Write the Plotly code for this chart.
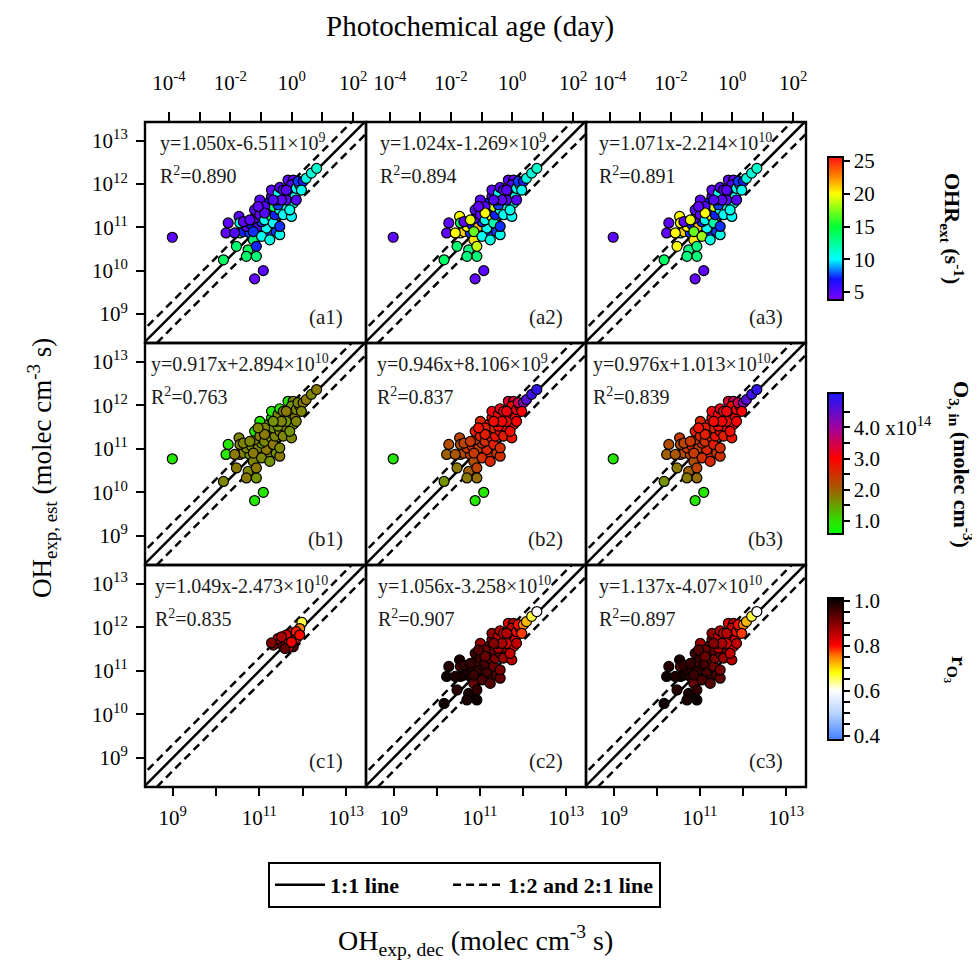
import plotly.graph_objects as go

# ---------------- data (log10 of OH exposure, molec cm-3 s) ----------------
LOGX_AB = [8.99, 10.89, 11.09, 10.17, 10.47, 10.74, 10.93, 10.70, 10.23, 10.28,
           10.53, 10.55, 10.63, 10.78, 10.93, 11.09, 11.24, 11.39, 11.47, 10.86,
           10.93, 10.70, 10.82, 10.97, 11.16, 10.55, 11.05, 10.89, 10.89, 11.01,
           11.12, 11.28, 11.32, 11.47, 11.36, 11.16, 11.20, 11.32, 11.47, 11.62,
           11.55, 11.43, 11.39, 11.55, 11.01, 11.12, 11.28, 11.28, 11.43, 11.47,
           11.55, 11.66, 11.78, 11.74, 11.70, 11.82, 11.78, 11.62, 11.85, 11.93,
           11.89, 12.01, 11.97, 12.08, 12.20, 12.32, 11.74, 11.70, 10.63, 10.86,
           11.05, 11.24, 11.85, 11.62, 11.51, 11.32, 11.12, 10.97, 10.78, 10.43]
LOGY_AB = [10.77, 9.81, 10.00, 10.25, 10.56, 10.48, 10.33, 10.33, 10.87, 11.10,
           11.25, 10.87, 10.90, 10.87, 10.83, 10.90, 10.87, 10.90, 10.83, 10.71,
           10.56, 11.02, 11.06, 11.02, 10.98, 11.10, 11.13, 11.21, 11.40, 11.29,
           11.17, 11.25, 11.10, 11.02, 11.29, 11.40, 11.56, 11.48, 11.40, 11.48,
           11.29, 11.52, 11.63, 11.71, 11.63, 11.48, 11.71, 11.86, 11.79, 11.92,
           11.86, 12.09, 12.09, 11.98, 11.79, 11.71, 11.56, 11.63, 11.90, 11.98,
           12.06, 12.06, 11.86, 12.13, 12.25, 12.36, 11.25, 11.40, 11.13, 10.90,
           10.79, 10.71, 11.63, 11.86, 11.63, 11.63, 11.33, 11.48, 11.17, 10.87]

# OHR_ext (s-1) colouring, columns 1-3
OHR_1 = [4.8, 4.6, 4.9, 13.8, 13.5, 14.0, 13.2, 13.6, 4.7, 4.9,
         5.0, 13.0, 7.2, 7.5, 12.8, 7.0, 7.4, 7.6, 10.5, 13.4,
         7.3, 4.8, 7.1, 5.2, 10.2, 10.6, 7.5, 4.9, 5.0, 4.7,
         10.3, 13.0, 10.1, 7.4, 7.2, 5.0, 7.3, 13.5, 10.4, 10.8,
         10.2, 7.6, 10.5, 4.8, 4.9, 5.1, 4.8, 4.7, 10.0, 4.9,
         5.0, 4.8, 4.6, 5.1, 7.4, 10.3, 10.6, 4.9, 10.4, 10.7,
         7.5, 7.2, 10.3, 10.8, 10.9, 11.2, 10.1, 10.5, 4.8, 7.4,
         10.2, 10.6, 5.0, 4.9, 4.8, 5.1, 5.0, 4.7, 4.9, 5.2]
OHR_2 = [4.8, 4.6, 4.9, 13.8, 13.5, 13.0, 13.2, 13.0, 4.7, 4.9,
         20.0, 19.5, 21.0, 7.5, 18.0, 7.0, 7.4, 7.6, 10.5, 20.5,
         19.0, 20.0, 7.1, 21.5, 10.2, 14.0, 7.5, 4.9, 5.0, 4.7,
         10.3, 20.0, 12.0, 7.4, 7.2, 5.0, 7.3, 19.0, 10.4, 10.8,
         10.2, 7.6, 10.5, 4.8, 4.9, 5.1, 4.8, 4.7, 10.0, 4.9,
         5.0, 4.8, 4.6, 5.1, 7.4, 10.3, 10.6, 4.9, 10.4, 10.7,
         7.5, 7.2, 10.3, 10.8, 10.9, 11.2, 10.1, 10.5, 4.8, 17.0,
         10.2, 10.6, 5.0, 4.9, 4.8, 5.1, 20.0, 4.7, 19.5, 20.0]
OHR_3 = [4.8, 4.6, 4.9, 13.8, 20.0, 13.0, 13.2, 13.0, 4.7, 4.9,
         20.0, 15.0, 21.0, 7.5, 18.0, 7.0, 7.4, 7.6, 10.5, 20.5,
         13.0, 20.0, 7.1, 21.5, 10.2, 20.0, 7.5, 4.9, 5.0, 4.7,
         10.3, 20.0, 12.0, 7.4, 7.2, 5.0, 7.3, 19.0, 10.4, 10.8,
         10.2, 7.6, 10.5, 4.8, 4.9, 5.1, 4.8, 4.7, 10.0, 4.9,
         5.0, 4.8, 4.6, 5.1, 7.4, 10.3, 10.6, 4.9, 10.4, 10.7,
         7.5, 7.2, 10.3, 10.8, 10.9, 11.2, 10.1, 10.5, 4.8, 17.0,
         18.0, 10.6, 5.0, 4.9, 4.8, 5.1, 20.0, 4.7, 19.5, 20.0]

# O3,in (x1e14 molec cm-3) colouring, columns 1-3
O3_1 = [0.9, 0.9, 0.9, 1.7, 1.8, 1.7, 1.6, 1.8, 0.9, 0.9,
        1.7, 1.8, 1.7, 1.6, 1.7, 1.8, 1.7, 1.6, 1.8, 1.7,
        1.8, 1.7, 1.6, 1.7, 1.8, 1.7, 1.6, 1.7, 0.9, 1.8,
        1.7, 1.6, 1.8, 1.7, 1.7, 1.8, 1.7, 1.6, 1.7, 1.8,
        1.7, 1.6, 1.7, 0.9, 0.9, 1.7, 0.9, 0.9, 1.7, 0.9,
        1.8, 0.9, 1.7, 1.6, 1.7, 1.8, 1.7, 1.6, 1.7, 1.8,
        1.7, 1.8, 1.7, 1.8, 1.7, 1.8, 1.7, 1.6, 1.7, 1.8,
        1.7, 1.6, 1.7, 1.8, 1.7, 1.6, 1.8, 1.7, 1.7, 1.8]
O3_2 = [0.9, 0.9, 0.9, 1.6, 1.8, 2.0, 1.9, 1.8, 2.0, 2.2,
        2.3, 2.1, 2.2, 2.3, 2.4, 2.5, 2.6, 2.4, 2.5, 2.2,
        2.3, 2.4, 2.5, 2.3, 2.6, 2.2, 2.5, 2.4, 2.7, 2.6,
        2.5, 2.6, 2.7, 2.5, 2.8, 2.9, 2.8, 2.6, 2.9, 2.8,
        2.7, 2.9, 3.0, 3.0, 2.6, 2.7, 3.0, 3.1, 2.9, 3.2,
        3.1, 3.3, 3.4, 3.0, 2.9, 3.0, 2.8, 2.9, 3.1, 3.2,
        3.5, 4.2, 3.0, 4.6, 4.8, 4.9, 2.8, 2.9, 2.3, 2.4,
        2.5, 2.6, 3.0, 3.1, 3.0, 2.9, 2.7, 2.8, 2.4, 2.1]
O3_3 = [0.9, 0.9, 0.9, 1.6, 1.8, 2.0, 1.9, 1.8, 2.0, 2.2,
        2.4, 2.1, 2.2, 2.3, 2.4, 2.5, 2.6, 2.4, 2.5, 2.2,
        2.3, 2.4, 2.5, 2.3, 2.6, 2.2, 2.5, 2.4, 2.7, 2.6,
        2.5, 2.6, 2.7, 2.5, 2.8, 2.9, 2.8, 2.6, 2.9, 2.8,
        2.7, 2.9, 3.0, 3.0, 2.6, 2.7, 3.0, 3.1, 2.9, 3.2,
        3.1, 3.3, 3.6, 3.0, 2.9, 3.0, 2.8, 2.9, 3.1, 3.2,
        3.5, 4.2, 3.0, 4.6, 4.8, 4.9, 2.8, 2.9, 2.3, 2.4,
        2.5, 2.6, 3.0, 3.1, 3.0, 2.9, 2.7, 2.8, 2.4, 2.1]

# row c: r_O3 colouring
LOGX_C1 = [11.98, 11.93, 11.74, 11.85, 11.66, 11.55, 11.47, 11.32, 11.43, 11.62,
           11.78, 11.66, 11.59, 11.51, 11.74, 11.28, 11.85, 11.93]
LOGY_C1 = [12.11, 11.97, 11.87, 11.74, 11.70, 11.66, 11.63, 11.59, 11.74, 11.82,
           11.55, 11.53, 11.51, 11.78, 11.66, 11.64, 11.90, 11.82]
R_C1 = [0.66, 0.75, 0.80, 0.82, 0.88, 0.84, 0.92, 0.90, 0.86, 0.83,
        0.95, 0.82, 0.93, 0.87, 0.81, 0.90, 0.79, 0.80]

LOGX_C23 = LOGX_AB[3:]
LOGY_C23 = LOGY_AB[3:]
R_C2 = [1.00, 0.98, 0.99, 1.00, 0.99, 1.00, 0.98, 0.99, 0.97, 0.99,
        0.98, 0.97, 0.96, 0.95, 0.94, 0.93, 0.92, 0.97, 0.98, 0.97,
        0.96, 0.95, 0.94, 0.97, 0.93, 0.96, 0.96, 0.95, 0.93, 0.92,
        0.91, 0.90, 0.89, 0.91, 0.92, 0.93, 0.90, 0.88, 0.87, 0.89,
        0.90, 0.88, 0.92, 0.91, 0.89, 0.85, 0.86, 0.84, 0.83, 0.86,
        0.85, 0.84, 0.82, 0.81, 0.83, 0.80, 0.78, 0.80, 0.75, 0.78,
        0.72, 0.66, 0.60, 0.86, 0.85, 0.97, 0.96, 0.95, 0.94, 0.85,
        0.86, 0.87, 0.90, 0.92, 0.94, 0.97, 0.99]
R_C3 = R_C2

EQ = [["y=1.050x-6.511×10<sup>9</sup>", "y=1.024x-1.269×10<sup>9</sup>", "y=1.071x-2.214×10<sup>10</sup>"],
      ["y=0.917x+2.894×10<sup>10</sup>", "y=0.946x+8.106×10<sup>9</sup>", "y=0.976x+1.013×10<sup>10</sup>"],
      ["y=1.049x-2.473×10<sup>10</sup>", "y=1.056x-3.258×10<sup>10</sup>", "y=1.137x-4.07×10<sup>10</sup>"]]
R2 = [["0.890", "0.894", "0.891"], ["0.763", "0.837", "0.839"], ["0.835", "0.907", "0.897"]]
LABELS = [["(a1)", "(a2)", "(a3)"], ["(b1)", "(b2)", "(b3)"], ["(c1)", "(c2)", "(c3)"]]
LEGEND_NAMES = ["1:1 line", "1:2 and 2:1 line"]

LINE_X = [1e8, 1e14]
RATIOS = [1.0, 2.0, 0.5]

OH_TICKS = [9, 10, 11, 12, 13]
AGE_TICKS = [-4, -3, -2, -1, 0, 1, 2]

# ---------------- layout geometry (screen pixels) ----------------
W, H = 980, 964
OFF = 8  # page body margin
COLS = [(145, 366), (366, 586), (586, 806)]
ROWS = [(122, 343), (343, 565), (565, 787)]
EQ_LEFT = [[13, 12, 11], [4, 9, 5], [8, 10, 11]]
XR = [8.36, 13.46]
YR = [8.33, 13.43]
AGE_RANGE = [-4.78, 2.42]
FONT = "Liberation Serif"


def px(v):
    return (v - OFF) / W


def py(v):
    return 1 - (v - OFF) / H


CS_OHR = [[0.0, "#8000ff"], [0.147, "#1010ff"], [0.284, "#00ffff"], [0.514, "#00ff30"],
          [0.743, "#ffff00"], [0.86, "#ff8800"], [1.0, "#ff1010"]]
CS_O3 = [[0.0, "#00ff00"], [0.093, "#30e000"], [0.314, "#a06000"], [0.535, "#ff0000"],
         [0.757, "#a000a0"], [1.0, "#1818ff"]]
CS_R = [[0.0, "#4080ff"], [0.19, "#b8d4ff"], [0.35, "#ffffff"], [0.476, "#ffff00"],
        [0.587, "#ff8000"], [0.667, "#ff0000"], [0.825, "#800000"], [1.0, "#000000"]]


def p10(a):
    return [10 ** v for v in a]


fig = go.Figure()

panels = [
    [(LOGX_AB, LOGY_AB, OHR_1), (LOGX_AB, LOGY_AB, OHR_2), (LOGX_AB, LOGY_AB, OHR_3)],
    [(LOGX_AB, LOGY_AB, O3_1), (LOGX_AB, LOGY_AB, O3_2), (LOGX_AB, LOGY_AB, O3_3)],
    [(LOGX_C1, LOGY_C1, R_C1), (LOGX_C23, LOGY_C23, R_C2), (LOGX_C23, LOGY_C23, R_C3)],
]
row_cs = [CS_OHR, CS_O3, CS_R]
row_rng = [(3.8, 25.6), (0.58, 5.1), (0.38, 1.013)]
cb_y = [(157, 300), (393, 534), (598, 740)]
cb_ticks = [
    dict(tickvals=[5, 10, 15, 20, 25], ticktext=["5", "10", "15", "20", "25"]),
    dict(tickvals=[1, 1.5, 2, 2.5, 3, 3.5, 4, 4.5],
         ticktext=["1.0", "", "2.0", "", "3.0", "", "4.0 x10<sup>14</sup>", ""]),
    dict(tickvals=[0.4, 0.45, 0.5, 0.55, 0.6, 0.65, 0.7, 0.75, 0.8, 0.85, 0.9, 0.95, 1.0],
         ticktext=["0.4", "", "", "", "0.6", "", "", "", "0.8", "", "", "", "1.0"]),
]
TICKFONT = dict(family=FONT, size=21, color="black")
NBSP = "\u00a0"
DASH = "8px,5px"

for r in range(3):
    for c in range(3):
        n = r * 3 + c + 1
        xa = "x" if n == 1 else f"x{n}"
        ya = "y" if n == 1 else f"y{n}"
        x0, x1 = COLS[c]
        y0, y1 = ROWS[r]
        pw, ph = x1 - x0, y1 - y0
        # reference lines
        for k, ratio in enumerate(RATIOS):
            nm = LEGEND_NAMES[min(k, 1)]
            if k == 0:
                nm = nm + NBSP * 8
            fig.add_trace(go.Scatter(
                x=LINE_X, y=[ratio * v for v in LINE_X], mode="lines",
                line=dict(color="black", width=2.5, dash="solid" if k == 0 else DASH),
                xaxis=xa, yaxis=ya, hoverinfo="skip", name=f"<b>{nm}</b>",
                showlegend=(n == 1 and k < 2)))
        lx, ly, col = panels[r][c]
        cb = None
        if c == 0:
            cy0, cy1 = cb_y[r]
            cb = dict(x=px(828), xanchor="left", xpad=0, thickness=15, lenmode="pixels",
                      len=(cy1 - cy0), y=py((cy0 + cy1) / 2), yanchor="middle", ypad=0,
                      outlinecolor="black", outlinewidth=2, ticks="outside", ticklen=6,
                      tickwidth=2, tickcolor="black", tickfont=TICKFONT, **cb_ticks[r])
        fig.add_trace(go.Scatter(
            x=p10(lx), y=p10(ly), mode="markers", xaxis=xa, yaxis=ya, showlegend=False,
            marker=dict(size=10, color=col, colorscale=row_cs[r], cmin=row_rng[r][0],
                        cmax=row_rng[r][1], line=dict(color="black", width=1.2),
                        showscale=(c == 0), colorbar=cb)))
        fig.layout[f"xaxis{n}"] = dict(
            domain=[px(x0), px(x1)], anchor=ya, type="log", range=XR,
            showgrid=False, zeroline=False, showline=False,
            ticks="outside" if r == 2 else "", ticklen=8, tickwidth=2, tickcolor="black",
            tickvals=[10 ** t for t in OH_TICKS],
            ticktext=[f"10<sup>{t}</sup>" if t % 2 == 1 else "" for t in OH_TICKS],
            showticklabels=(r == 2), ticklabelstandoff=4, tickfont=TICKFONT)
        fig.layout[f"yaxis{n}"] = dict(
            domain=[py(y1), py(y0)], anchor=xa, type="log", range=YR,
            showgrid=False, zeroline=False, showline=False,
            ticks="outside" if c == 0 else "", ticklen=8, tickwidth=2, tickcolor="black",
            tickvals=[10 ** t for t in OH_TICKS],
            ticktext=[f"10<sup>{t}</sup>" for t in OH_TICKS],
            showticklabels=(c == 0), ticklabelstandoff=4, tickfont=TICKFONT)
        # frame
        fig.add_shape(type="rect", xref=f"{xa} domain", yref=f"{ya} domain",
                      x0=0, x1=1, y0=0, y1=1, line=dict(color="black", width=2.4),
                      layer="above")
        # annotations
        fig.add_annotation(
            xref=f"{xa} domain", yref=f"{ya} domain", x=EQ_LEFT[r][c] / pw, y=1 - 20 / ph,
            xanchor="left", yanchor="middle", showarrow=False, text=EQ[r][c],
            font=dict(family=FONT, size=20, color="#1a1a1a"))
        fig.add_annotation(
            xref=f"{xa} domain", yref=f"{ya} domain", x=EQ_LEFT[r][c] / pw, y=1 - 53 / ph,
            xanchor="left", yanchor="middle", showarrow=False,
            text=f"R<sup>2</sup>={R2[r][c]}",
            font=dict(family=FONT, size=20, color="#1a1a1a"))
        fig.add_annotation(
            xref=f"{xa} domain", yref=f"{ya} domain", x=1 - 21 / pw, y=26 / ph,
            xanchor="right", yanchor="middle", showarrow=False, text=LABELS[r][c],
            font=dict(family=FONT, size=21, color="#1a1a1a"))

# top photochemical-age axes
for c in range(3):
    n = 10 + c
    base = "x" if c == 0 else f"x{c + 1}"
    yb = "y" if c == 0 else f"y{c + 1}"
    fig.add_trace(go.Scatter(x=[1e-3], y=[1e10], mode="markers", marker=dict(opacity=0),
                             xaxis=f"x{n}", yaxis=yb, showlegend=False, hoverinfo="skip"))
    fig.layout[f"xaxis{n}"] = dict(
        overlaying=base, side="top", anchor=yb, type="log", range=AGE_RANGE,
        showgrid=False, zeroline=False, showline=False,
        ticks="outside", ticklen=9, tickwidth=2, tickcolor="black",
        tickvals=[10 ** t for t in AGE_TICKS],
        ticktext=[f"10<sup>{t}</sup>" if t % 2 == 0 else "" for t in AGE_TICKS],
        ticklabelstandoff=14, tickfont=TICKFONT)

# titles
TITLE = dict(family=FONT, size=29, color="black")
fig.add_annotation(xref="paper", yref="paper", x=px(470), y=py(26), xanchor="center",
                   yanchor="middle", showarrow=False, text="Photochemical age (day)", font=TITLE)
fig.add_annotation(xref="paper", yref="paper", x=px(475), y=py(940), xanchor="center",
                   yanchor="middle", showarrow=False,
                   text="OH<sub>exp, dec</sub> (molec cm<sup>-3</sup> s)",
                   font=dict(family=FONT, size=28, color="black"))
fig.add_annotation(xref="paper", yref="paper", x=px(42), y=py(468), xanchor="center",
                   yanchor="middle", showarrow=False, textangle=-90,
                   text="OH<sub>exp, est</sub> (molec cm<sup>-3</sup> s)",
                   font=dict(family=FONT, size=27, color="black"))
CBT = dict(family=FONT, size=22, color="black")
fig.add_annotation(xref="paper", yref="paper", x=px(952), y=py(228), xanchor="center",
                   yanchor="middle", showarrow=False, textangle=90,
                   text="<b>OHR<sub>ext</sub> (s<sup>-1</sup>)</b>", font=CBT)
fig.add_annotation(xref="paper", yref="paper", x=px(962), y=py(464), xanchor="center",
                   yanchor="middle", showarrow=False, textangle=90,
                   text="<b>O<sub>3, in</sub> (molec cm<sup>-3</sup>)</b>", font=CBT)
fig.add_annotation(xref="paper", yref="paper", x=px(957), y=py(670), xanchor="center",
                   yanchor="middle", showarrow=False, textangle=90,
                   text="<b>r<sub>O<sub>3</sub></sub></b>", font=CBT)

fig.update_layout(
    width=W, height=H, margin=dict(l=0, r=0, t=0, b=0),
    paper_bgcolor="white", plot_bgcolor="white",
    legend=dict(orientation="h", x=px(268), y=py(862), xanchor="left", yanchor="top",
                bordercolor="black", borderwidth=2, bgcolor="white", itemwidth=50,
                font=dict(family=FONT, size=22, color="black")),
)

fig.write_html("out.html")
